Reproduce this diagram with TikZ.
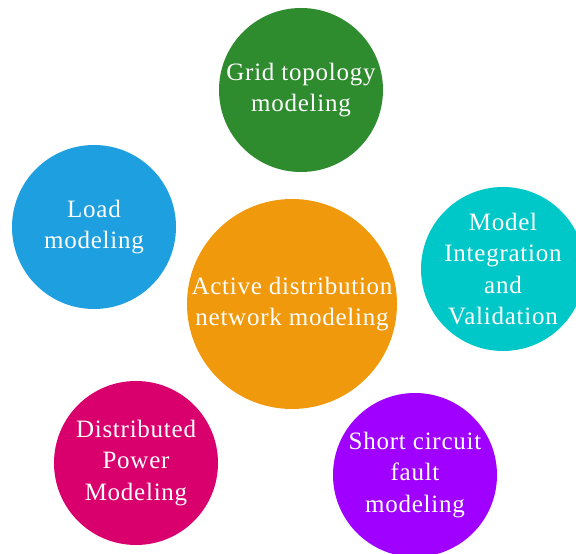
\documentclass[tikz,border=0pt]{standalone}
\usepackage{fontspec}
\setmainfont[LetterSpace=3]{Liberation Serif}
\definecolor{coreorange}{HTML}{F0990D}
\definecolor{gridgreen}{HTML}{2E8B2E}
\definecolor{loadblue}{HTML}{1EA0E0}
\definecolor{valcyan}{HTML}{00C8C8}
\definecolor{distmagenta}{HTML}{D9006E}
\definecolor{faultpurple}{HTML}{A000FF}
\tikzset{
  topic/.style={circle,inner sep=0pt,minimum size=164pt,text=white,align=center,
    font=\fontsize{25}{31.5}\selectfont,yshift=-2pt},
}
\begin{document}
\begin{tikzpicture}[x=1pt,y=1pt]
        \useasboundingbox (0,0) rectangle (576,554);
        \node[topic,fill=gridgreen] (grid) at (301,466) {Grid topology\\modeling};
        \node[topic,fill=loadblue] (load) at (94,329) {Load\\modeling};
        \node[topic,fill=valcyan] (valid) at (503,287) {Model\\Integration\\and\\Validation};
        \node[topic,fill=distmagenta] (dist) at (136,93) {Distributed\\Power\\Modeling};
        \node[topic,fill=faultpurple] (fault) at (415,81) {Short circuit\\fault\\modeling};
        \node[topic,fill=coreorange,minimum size=210pt] (core) at (292,252) {Active distribution\\network modeling};
        \end{tikzpicture}
\end{document}
